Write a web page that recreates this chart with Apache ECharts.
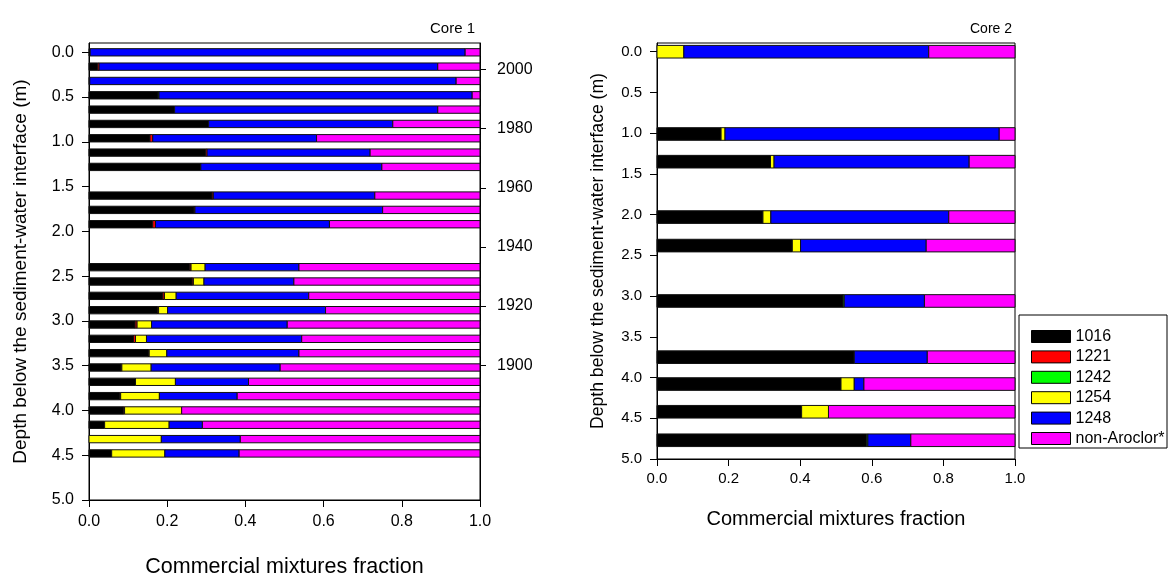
<!DOCTYPE html>
<html><head><meta charset="utf-8">
<script src="https://cdn.jsdelivr.net/npm/echarts@6/dist/echarts.min.js"></script>
<style>html,body{margin:0;padding:0;background:#fff}#c{width:1173px;height:573px}</style>
</head><body><div id="c"></div>
<script>
// ---------- DATA ----------
const components = ['1016', '1221', '1242', '1254', '1248', 'non-Aroclor*'];
const colors = ['#000000', '#ff0000', '#00ff00', '#ffff00', '#0000ff', '#ff00ff'];

// Core 1 (depth in m)
const core1Depth = [0.00, 0.16, 0.32, 0.48, 0.64, 0.80, 0.96, 1.12, 1.28, 1.60, 1.76, 1.92, 2.40, 2.56, 2.72, 2.88, 3.04, 3.20, 3.36, 3.52, 3.68, 3.84, 4.00, 4.16, 4.32, 4.48];
const core1_1016 = [0.003, 0.022, 0.002, 0.177, 0.219, 0.306, 0.156, 0.298, 0.286, 0.315, 0.269, 0.163, 0.258, 0.264, 0.189, 0.175, 0.118, 0.114, 0.152, 0.082, 0.119, 0.078, 0.088, 0.040, 0.000, 0.058];
const core1_1221 = [0, 0.004, 0, 0, 0, 0, 0.007, 0.004, 0, 0.003, 0.002, 0.007, 0.003, 0.003, 0.004, 0.003, 0.005, 0.005, 0.002, 0.002, 0, 0.003, 0.003, 0, 0, 0];
const core1_1242 = [0, 0, 0, 0.002, 0, 0, 0, 0, 0, 0, 0, 0, 0, 0, 0, 0, 0, 0, 0, 0, 0, 0, 0, 0, 0, 0];
const core1_1254 = [0, 0, 0, 0, 0, 0, 0, 0, 0, 0, 0, 0, 0.036, 0.027, 0.030, 0.023, 0.037, 0.028, 0.045, 0.075, 0.102, 0.099, 0.146, 0.165, 0.185, 0.136];
const core1_1248 = [0.959, 0.866, 0.937, 0.801, 0.673, 0.471, 0.419, 0.417, 0.463, 0.413, 0.480, 0.445, 0.240, 0.230, 0.339, 0.404, 0.347, 0.397, 0.338, 0.330, 0.187, 0.199, 0.000, 0.085, 0.202, 0.190];
const core1_nonAroclor = [0.038, 0.108, 0.061, 0.020, 0.108, 0.223, 0.418, 0.281, 0.251, 0.269, 0.249, 0.385, 0.463, 0.476, 0.438, 0.395, 0.493, 0.456, 0.463, 0.511, 0.592, 0.621, 0.763, 0.710, 0.613, 0.616];

// Core 2 (depth in m)
const core2Depth = [0.00, 1.01, 1.35, 2.03, 2.38, 3.06, 3.75, 4.08, 4.42, 4.77];
const core2_1016 = [0.000, 0.179, 0.317, 0.296, 0.378, 0.520, 0.551, 0.514, 0.404, 0.586];
const core2_1221 = [0, 0, 0, 0, 0, 0, 0, 0, 0, 0];
const core2_1242 = [0, 0, 0, 0, 0, 0.003, 0, 0, 0, 0.003];
const core2_1254 = [0.075, 0.011, 0.010, 0.022, 0.023, 0, 0, 0.037, 0.075, 0];
const core2_1248 = [0.684, 0.766, 0.545, 0.497, 0.351, 0.224, 0.204, 0.027, 0, 0.120];
const core2_nonAroclor = [0.241, 0.044, 0.128, 0.185, 0.248, 0.253, 0.245, 0.422, 0.521, 0.291];

// Axis ticks
const depthTicks = [0, 0.5, 1.0, 1.5, 2.0, 2.5, 3.0, 3.5, 4.0, 4.5, 5.0];
const yearTicks = [1900, 1920, 1940, 1960, 1980, 2000];

// ---------- BUILD ----------
const FONT = 'Liberation Sans, Arial, sans-serif';
const core1Comps = [core1_1016, core1_1221, core1_1242, core1_1254, core1_1248, core1_nonAroclor];
const core2Comps = [core2_1016, core2_1221, core2_1242, core2_1254, core2_1248, core2_nonAroclor];

function buildRows(depths, comps) {
  const out = comps.map(() => []);
  depths.forEach((d, i) => {
    let acc = 0;
    comps.forEach((arr, c) => {
      const v = arr[i];
      if (v > 0) out[c].push([acc, acc + v, d]);
      acc += v;
    });
  });
  return out;
}

function makeRender(thick, color) {
  return function (params, api) {
    const a = api.coord([api.value(0), api.value(2)]);
    const b = api.coord([api.value(1), api.value(2)]);
    const h = Math.abs(api.size([0, thick], [api.value(0), api.value(2)])[1]);
    return {
      type: 'rect',
      shape: { x: a[0], y: a[1] - h / 2, width: b[0] - a[0], height: h },
      style: { fill: color, stroke: '#111', lineWidth: 1 }
    };
  };
}

const rows1 = buildRows(core1Depth, core1Comps);
const rows2 = buildRows(core2Depth, core2Comps);
const series = [];
components.forEach((name, c) => {
  series.push({
    type: 'custom', name, xAxisIndex: 0, yAxisIndex: 0,
    itemStyle: { color: colors[c] },
    renderItem: makeRender(0.082, colors[c]), data: rows1[c],
    encode: { x: [0, 1], y: 2 }, silent: true
  });
  series.push({
    type: 'custom', name, xAxisIndex: 1, yAxisIndex: 2,
    itemStyle: { color: colors[c] },
    renderItem: makeRender(0.155, colors[c]), data: rows2[c],
    encode: { x: [0, 1], y: 2 }, silent: true
  });
});

const lineStyle = { color: '#000', width: 1 };
function xAx(grid, fs, nfs, gap, margin) {
  return {
    type: 'value', gridIndex: grid, min: 0, max: 1, interval: 0.2,
    axisLine: { show: true, onZero: false, lineStyle },
    axisTick: { show: true, inside: false, length: 7, lineStyle },
    axisLabel: { color: '#000', fontSize: fs, fontFamily: FONT, margin, formatter: v => v.toFixed(1) },
    splitLine: { show: false },
    name: 'Commercial mixtures fraction', nameLocation: 'middle', nameGap: gap,
    nameTextStyle: { color: '#000', fontSize: nfs, fontFamily: FONT }
  };
}
function depthAx(grid, fs, nfs, gap, minV) {
  return {
    type: 'value', gridIndex: grid, inverse: true, min: minV, max: 5.0,
    axisLine: { show: true, onZero: false, lineStyle },
    axisTick: { show: true, inside: false, length: 7, lineStyle, customValues: depthTicks },
    axisLabel: { color: '#000', fontSize: fs, fontFamily: FONT, margin: 15, customValues: depthTicks, formatter: v => v.toFixed(1) },
    splitLine: { show: false },
    name: 'Depth below the sediment-water interface (m)', nameLocation: 'middle', nameGap: gap, nameRotate: 90,
    nameTextStyle: { color: '#000', fontSize: nfs, fontFamily: FONT }
  };
}

const option = {
  animation: false,
  backgroundColor: '#fff',
  grid: [
    { left: 89, top: 43, width: 391, height: 457, show: true, borderColor: '#000', borderWidth: 1, backgroundColor: 'transparent', outerBoundsMode: 'none', containLabel: false },
    { left: 657, top: 43, width: 358, height: 416, show: true, borderColor: '#000', borderWidth: 1, backgroundColor: 'transparent', outerBoundsMode: 'none', containLabel: false }
  ],
  xAxis: [xAx(0, 16, 21.5, 56, 14), xAx(1, 15, 20, 50, 12)],
  yAxis: [
    depthAx(0, 16, 19, 59, -0.104),
    {
      type: 'value', gridIndex: 0, position: 'right', min: 1854.35, max: 2009.0,
      axisLine: { show: true, onZero: false, lineStyle },
      axisTick: { show: true, inside: false, length: 6, lineStyle, customValues: yearTicks },
      axisLabel: { color: '#000', fontSize: 16, fontFamily: FONT, margin: 17, customValues: yearTicks, formatter: v => String(Math.round(v)) },
      splitLine: { show: false }
    },
    depthAx(1, 15, 17.6, 50, -0.107)
  ],
  legend: {
    orient: 'vertical', left: 1031, top: 328.5, padding: 0,
    itemWidth: 39, itemHeight: 12, itemGap: 4.4,
    icon: 'rect',
    textStyle: { color: '#000', fontSize: 16, fontFamily: FONT },
    data: components.map((n, c) => ({ name: n, itemStyle: { color: colors[c], borderColor: '#000', borderWidth: 1 } })),
    selectedMode: false
  },
  graphic: [
    { type: 'rect', shape: { x: 1019, y: 315, width: 148, height: 133 }, style: { fill: 'none', stroke: '#000', lineWidth: 1 }, z: 10 },
    { type: 'text', x: 475, y: 29, style: { text: 'Core 1', fill: '#000', font: '15px ' + FONT, textAlign: 'right', textVerticalAlign: 'middle' } },
    { type: 'text', x: 1012, y: 29, style: { text: 'Core 2', fill: '#000', font: '14px ' + FONT, textAlign: 'right', textVerticalAlign: 'middle' } }
  ],
  series
};

const chart = echarts.init(document.getElementById('c'), null, { renderer: 'canvas' });
chart.setOption(option);
</script>
</body></html>
